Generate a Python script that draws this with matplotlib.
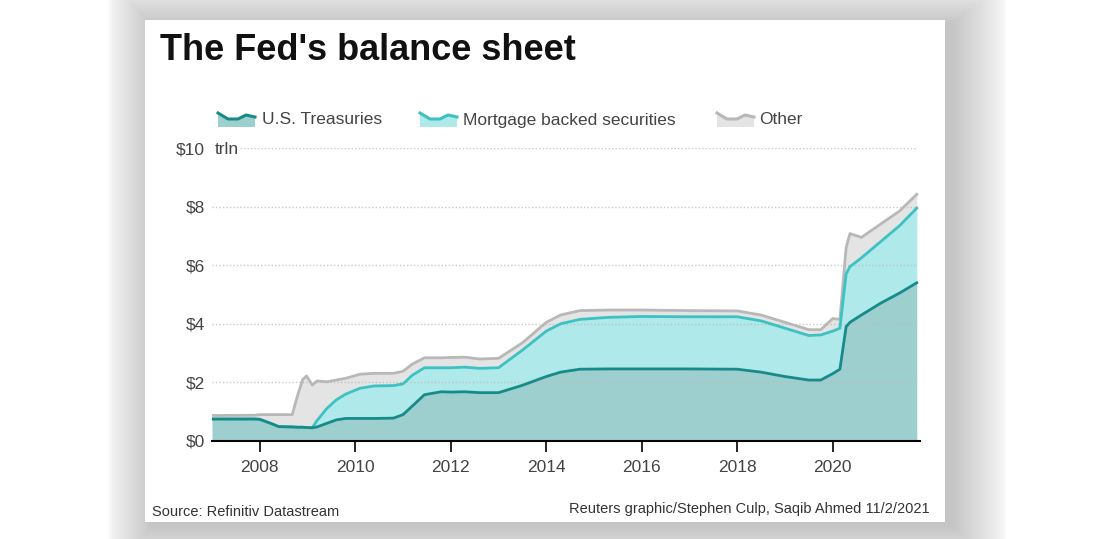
import numpy as np
import matplotlib.pyplot as plt
from matplotlib.patches import Rectangle, Polygon

### data (trillions of dollars) ###
dates = [2007.0, 2007.9, 2008.0, 2008.2, 2008.4, 2008.68, 2008.8, 2008.9, 2008.98,
         2009.1, 2009.2, 2009.4, 2009.6, 2009.8, 2010.1, 2010.4, 2010.8, 2011.0,
         2011.2, 2011.45, 2011.8, 2012.0, 2012.3, 2012.6, 2013.0, 2013.5, 2014.0,
         2014.3, 2014.7, 2015.3, 2016.0, 2017.0, 2018.0, 2018.5, 2019.0, 2019.5,
         2019.75, 2020.0, 2020.15, 2020.28, 2020.36, 2020.6, 2021.0, 2021.4, 2021.76]
treasuries = [0.75, 0.75, 0.74, 0.62, 0.49, 0.48, 0.47, 0.47, 0.46,
              0.45, 0.48, 0.60, 0.72, 0.77, 0.77, 0.77, 0.78, 0.90,
              1.20, 1.58, 1.68, 1.67, 1.68, 1.65, 1.65, 1.90, 2.20,
              2.35, 2.45, 2.46, 2.46, 2.46, 2.45, 2.35, 2.20, 2.08,
              2.08, 2.30, 2.45, 3.90, 4.05, 4.30, 4.70, 5.05, 5.40]
mbs = [0.0, 0.0, 0.0, 0.0, 0.0, 0.0, 0.0, 0.0, 0.0,
       0.0, 0.22, 0.50, 0.68, 0.83, 1.03, 1.11, 1.11, 1.05,
       1.05, 0.92, 0.82, 0.83, 0.84, 0.83, 0.85, 1.20, 1.55,
       1.65, 1.70, 1.76, 1.79, 1.78, 1.79, 1.75, 1.65, 1.52,
       1.54, 1.45, 1.40, 1.80, 1.90, 1.95, 2.10, 2.30, 2.55]
other = [0.12, 0.13, 0.16, 0.28, 0.41, 0.42, 1.13, 1.63, 1.76,
         1.46, 1.35, 0.92, 0.68, 0.54, 0.48, 0.43, 0.42, 0.43,
         0.38, 0.34, 0.34, 0.35, 0.34, 0.32, 0.32, 0.25, 0.30,
         0.30, 0.30, 0.25, 0.22, 0.21, 0.20, 0.20, 0.20, 0.20,
         0.18, 0.43, 0.30, 0.90, 1.13, 0.70, 0.60, 0.50, 0.47]
series_names = ['U.S. Treasuries', 'Mortgage backed securities', 'Other']
year_ticks = [2008, 2010, 2012, 2014, 2016, 2018, 2020]
y_ticks = [0, 2, 4, 6, 8, 10]
#====================

### style ###
fill_cols = ['#9ecfcf', '#afe9e9', '#e4e4e4']
line_cols = ['#178a8a', '#3cc2c2', '#b8b8b8']
plt.rcParams['font.family'] = ['Liberation Sans', 'DejaVu Sans']
W, H = 1110, 539

def px(x, y):
    return x / W, 1 - y / H
#====================

fig = plt.figure(figsize=(W / 100, H / 100), dpi=100)
fig.patch.set_facecolor('white')

# background with soft shadow behind the card
bg = fig.add_axes([0, 0, 1, 1])
bg.set_xlim(0, W)
bg.set_ylim(H, 0)
bg.axis('off')
for s in range(50, 0, -1):
    bg.add_patch(Rectangle((152 - s * 0.9, 24 - s * 0.9), 800 + 2 * s, 502 + 1.8 * s,
                           facecolor='#707070', edgecolor='none', alpha=0.007))
bg.add_patch(Rectangle((145, 20), 800, 502, facecolor='white', edgecolor='none'))

# legend glyphs (small area icons)
def glyph(x0, y0, fc, lc):
    shape = np.array([[0, 1], [10, 7], [20, 7], [28, 3], [37, 5]])
    pts = [(x0 + a, y0 + b) for a, b in shape]
    bg.add_patch(Polygon(pts + [(x0 + 37, y0 + 15), (x0, y0 + 15)], closed=True,
                         facecolor=fc, edgecolor='none'))
    bg.plot([p[0] for p in pts], [p[1] for p in pts], color=lc, lw=2.2)

leg_x = [218, 420, 717]
txt_x = [262, 463, 759]
for i in range(3):
    glyph(leg_x[i], 112, fill_cols[i], line_cols[i])
    fig.text(*px(txt_x[i], 120), series_names[i], fontsize=12.5, color='#444444',
             va='center', ha='left')

fig.text(*px(160, 51), "The Fed's balance sheet", fontsize=26, fontweight='bold',
         color='#111111', va='center', ha='left')
fig.text(*px(152, 512), 'Source: Refinitiv Datastream', fontsize=10.5, color='#333333',
         va='center', ha='left')
fig.text(*px(930, 509), 'Reuters graphic/Stephen Culp, Saqib Ahmed 11/2/2021', fontsize=10.5,
         color='#333333', va='center', ha='right')

# main chart
left, right, top, bottom = 212, 920, 148, 441
ax = fig.add_axes([left / W, 1 - bottom / H, (right - left) / W, (bottom - top) / H])
ax.patch.set_alpha(0)

x = np.array(dates)
t = np.array(treasuries)
m = t + np.array(mbs)
o = m + np.array(other)
ax.fill_between(x, m, o, color=fill_cols[2], lw=0, zorder=1)
ax.fill_between(x, t, m, color=fill_cols[1], lw=0, zorder=1)
ax.fill_between(x, 0, t, color=fill_cols[0], lw=0, zorder=1)
ax.plot(x, o, color=line_cols[2], lw=2, zorder=3)
ax.plot(x, m, color=line_cols[1], lw=2, zorder=3)
ax.plot(x, t, color=line_cols[0], lw=2, zorder=3)

for v in y_ticks[1:]:
    xmin = (240 - left) / (right - left) if v == 10 else 0
    ax.axhline(v, xmin=xmin, xmax=0.995, color='#bbbbbb', lw=1, ls=(0, (1, 1.5)),
               zorder=2, alpha=0.8)

x0 = dates[0]
ax.set_xlim(x0, x0 + (right - left) / 47.75)
ax.set_ylim(0, 10)
ax.set_xticks(year_ticks)
ax.set_xticklabels([str(y) for y in year_ticks])
ax.set_yticks(y_ticks)
ax.set_yticklabels(['$' + str(v) for v in y_ticks])
for sp in ['top', 'right', 'left']:
    ax.spines[sp].set_visible(False)
ax.spines['bottom'].set_linewidth(1.5)
ax.spines['bottom'].set_zorder(4)
ax.tick_params(axis='x', direction='out', length=8, width=1.2, color='black',
               labelsize=12.5, labelcolor='#444444', pad=6)
ax.tick_params(axis='y', length=0, labelsize=12.5, labelcolor='#444444', pad=5)
fig.text(*px(215, 149), 'trln', fontsize=12.5, color='#444444', va='center', ha='left')

fig.savefig('out.png', dpi=100)
